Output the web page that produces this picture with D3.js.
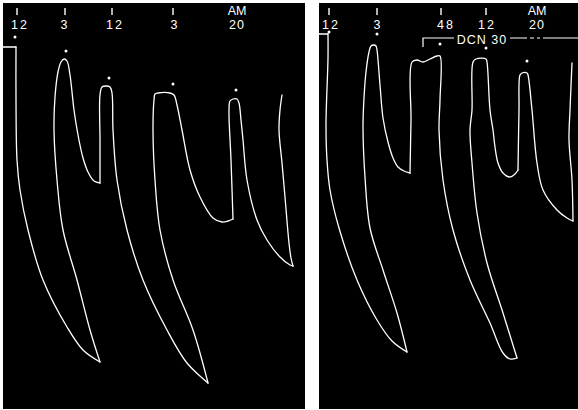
<!DOCTYPE html>
<html>
<head>
<meta charset="utf-8">
<script src="https://cdn.jsdelivr.net/npm/d3@7/dist/d3.min.js"></script>
<style>
  body { margin: 0; background: #fff; }
  svg { display: block; }
  .lbl { font-family: "Liberation Sans", Arial, sans-serif; font-size: 12.5px; fill: #fff; }
</style>
</head>
<body>
<script>
// pen trace pieces: [time, pen depth from top of paper]; pieces meet at sharp corners
const leftFlat  = [[0,44],[13,44]];
const leftFall1 = [[13,44],[13,97],[14,157],[17,187],[25,227],[40,277],[64,324],[80,347],[97,359]];
const leftRise1 = [[97,359],[87,327],[74,277],[60,227],[54,177],[51,127],[52,94],[55,69],[58,59],[61,56],[64,58],
  [67,72],[71,107],[75,132],[80,155],[85,169],[91,178],[97,180]];
const leftFall2 = [[97,180],[97,137],[97,92],[99,84],[103,83],[107,84],[109,90],[110,127],[114,177],[124,227],
  [140,277],[164,327],[184,360],[205,380]];
const leftRise2 = [[205,380],[190,327],[170,277],[157,227],[152,177],[150,127],[151,97],[152,91],[155,90],[167,90],
  [171,92],[174,102],[179,127],[187,167],[197,194],[210,215],[219,219],[225,218],[230,216]];
const leftFall3 = [[230,216],[228,157],[226,107],[227,98],[230,96],[234,96],[236,100],[238,117],[240,137],[244,177],
  [254,217],[264,237],[277,254],[287,262],[290,263]];
const leftRise3 = [[290,263],[288,255],[286,240],[282,194],[279,160],[276,127],[277,107],[279,92]];

const rightFlat  = [[0,31],[9,31]];
const rightFall1 = [[9,31],[9,55],[7,122],[8,157],[11,187],[20,225],[38,277],[58,317],[73,338],[88,349]];
const rightRise1 = [[88,349],[78,310],[64,267],[51,225],[46,174],[44,124],[45,95],[47,69],[50,49],[52,43],[55,42],
  [57,43],[58,47],[61,82],[64,115],[69,139],[74,155],[79,164],[85,168],[91,170]];
const rightFall2 = [[91,170],[92,117],[93,59],[98,57],[104,59],[111,56],[118,53],[121,53],[121,97],[120,127],
  [124,177],[134,227],[151,277],[171,320],[184,350],[191,356],[198,355]];
const rightRise2 = [[198,355],[184,310],[168,260],[158,210],[153,160],[151,127],[153,107],[154,59],[157,56],[167,56],
  [168,59],[171,107],[174,127],[176,144],[179,160],[184,170],[191,174],[196,171],[199,167]];
const rightFall3 = [[199,167],[200,107],[201,72],[203,70],[208,70],[209,72],[213,107],[218,160],[224,187],[238,207],
  [248,215],[254,218]];
const rightRise3 = [[254,218],[253,177],[250,137],[251,107],[253,60]];

// stimulus dots
const leftDots = [[12,34],[63,48],[106,75],[170,81],[233,87]];
const rightDots = [[10,29],[58,31],[121,41],[167,45],[208,58]];

// event marks: tick time, label time, text
const leftTicks = [14, 62, 109, 170];
const leftLabelT = [17, 61, 112, 171];
const leftLabels = ["12", "3", "12", "3"];
const rightTicks = [10, 58, 122, 167];
const rightLabelT = [12, 58, 127, 168];
const rightLabels = ["12", "3", "48", "12"];
const leftAM = 234, rightAM = 218;
const amLabel = ["AM", "20"];
const dcnLabel = "DCN 30";
const dcnSpan = [104, 135, 163, 191];

const W = 578, H = 410;
const svg = d3.select("body").append("svg").attr("width", W).attr("height", H);

const y = d3.scaleLinear().domain([0, 406]).range([3, 409]);

const panels = [
  { x0: 3, x1: 305, dom: 302, pieces: [leftFlat, leftFall1, leftRise1, leftFall2, leftRise2, leftFall3, leftRise3],
    dots: leftDots, ticks: leftTicks, lt: leftLabelT, labels: leftLabels, am: leftAM },
  { x0: 319, x1: 578, dom: 259, pieces: [rightFlat, rightFall1, rightRise1, rightFall2, rightRise2, rightFall3, rightRise3],
    dots: rightDots, ticks: rightTicks, lt: rightLabelT, labels: rightLabels, am: rightAM }
];

panels.forEach((p, pi) => {
  const x = d3.scaleLinear().domain([0, p.dom]).range([p.x0, p.x1]);
  const g = svg.append("g");

  g.append("rect")
    .attr("x", p.x0).attr("y", y(0))
    .attr("width", p.x1 - p.x0).attr("height", y(406) - y(0))
    .attr("fill", "#000");

  const line = d3.line()
    .x(d => x(d[0])).y(d => y(d[1]))
    .curve(d3.curveCatmullRom.alpha(0.5));

  g.selectAll(".trace")
    .data(p.pieces)
    .enter()
    .append("path")
    .attr("d", line)
    .attr("fill", "none")
    .attr("stroke", "#fff")
    .attr("stroke-width", 1.3)
    .attr("stroke-linejoin", "round")
    .attr("stroke-linecap", "round");

  g.selectAll(".dot")
    .data(p.dots)
    .enter()
    .append("circle")
    .attr("cx", d => x(d[0])).attr("cy", d => y(d[1]))
    .attr("r", 1.5).attr("fill", "#fff");

  g.selectAll(".tk")
    .data(p.ticks)
    .enter()
    .append("line")
    .attr("x1", d => x(d)).attr("x2", d => x(d))
    .attr("y1", y(5)).attr("y2", y(12))
    .attr("stroke", "#fff").attr("stroke-width", 1.4);

  g.selectAll(".num")
    .data(p.labels)
    .enter()
    .append("text")
    .attr("class", "lbl")
    .attr("x", (d, i) => x(p.lt[i]))
    .attr("y", y(26.3))
    .attr("text-anchor", "middle")
    .style("letter-spacing", d => d.length > 1 ? "2px" : "0px")
    .text(d => d);

  g.append("text").attr("class", "lbl")
    .attr("x", x(p.am)).attr("y", y(12))
    .attr("text-anchor", "middle").text(amLabel[0]);
  g.append("text").attr("class", "lbl")
    .attr("x", x(p.am)).attr("y", y(26.3))
    .attr("text-anchor", "middle").style("letter-spacing", "1px").text(amLabel[1]);

  if (pi === 1) {
    const [a, b, c, e] = dcnSpan;
    g.append("path")
      .attr("d", `M${x(a)},${y(44)}V${y(35)}H${x(b)}`)
      .attr("fill", "none").attr("stroke", "#fff").attr("stroke-width", 1.2);
    g.append("line")
      .attr("x1", x(e)).attr("x2", x(p.dom))
      .attr("y1", y(35)).attr("y2", y(35))
      .attr("stroke", "#fff").attr("stroke-width", 1.2)
      .attr("stroke-dasharray", "17,3,4,3,3,3,60");
    g.append("text").attr("class", "lbl")
      .attr("x", x(c)).attr("y", y(41))
      .attr("text-anchor", "middle").style("letter-spacing", "1px")
      .text(dcnLabel);
  }
});
</script>
</body>
</html>
